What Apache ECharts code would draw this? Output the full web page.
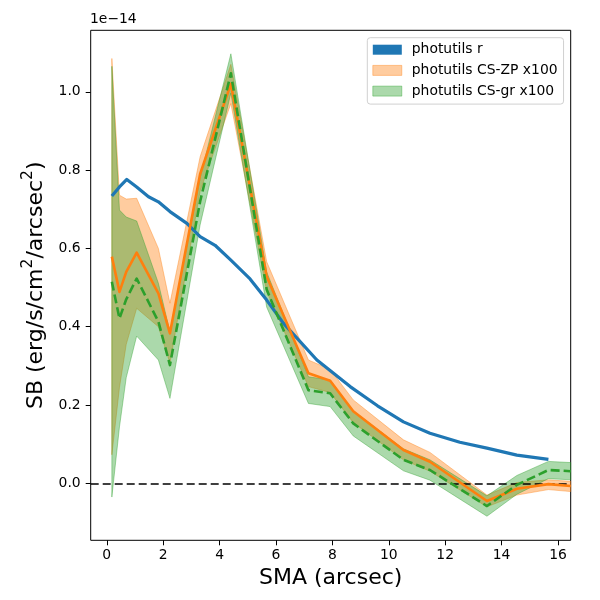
<!DOCTYPE html>
<html><head><meta charset="utf-8">
<script src="https://cdn.jsdelivr.net/npm/echarts@6/dist/echarts.min.js"></script>
<style>html,body{margin:0;padding:0;background:#fff}#c{width:600px;height:600px}</style>
</head><body><div id="c"></div>
<script>
// surface brightness values in units of 1e-14 erg/s/cm^2/arcsec^2
const smaR = [0.18, 0.45, 0.71, 1.06, 1.48, 1.83, 2.24, 2.84, 3.31, 3.84, 4.40, 5.08, 5.67, 6.26, 7.45, 8.63, 9.60, 10.52, 11.46, 12.52, 13.48, 14.54, 15.66];
const sbR  = [0.734, 0.757, 0.776, 0.757, 0.732, 0.719, 0.694, 0.664, 0.630, 0.608, 0.570, 0.522, 0.468, 0.409, 0.315, 0.247, 0.198, 0.157, 0.128, 0.105, 0.090, 0.072, 0.061];

const smaCS = [0.18, 0.45, 0.69, 1.06, 1.83, 2.24, 3.31, 4.40, 5.67, 7.15, 7.92, 8.74, 10.52, 11.46, 13.48, 14.54, 15.66, 16.45];
const zpMid = [0.579, 0.489, 0.540, 0.589, 0.485, 0.383, 0.790, 1.020, 0.528, 0.281, 0.262, 0.184, 0.085, 0.055, -0.045, -0.014, -0.002, -0.007];
const zpHi  = [1.085, 0.736, 0.726, 0.728, 0.600, 0.460, 0.834, 1.070, 0.566, 0.315, 0.291, 0.213, 0.111, 0.079, -0.030, 0.002, 0.009, 0.005];
const zpLo  = [0.073, 0.245, 0.355, 0.447, 0.400, 0.307, 0.746, 0.970, 0.490, 0.247, 0.232, 0.155, 0.060, 0.031, -0.060, -0.030, -0.016, -0.021];
const grMid = [0.515, 0.421, 0.470, 0.523, 0.413, 0.302, 0.720, 1.047, 0.495, 0.238, 0.230, 0.153, 0.060, 0.034, -0.058, -0.004, 0.034, 0.031];
const grHi  = [1.065, 0.698, 0.680, 0.670, 0.511, 0.387, 0.780, 1.097, 0.540, 0.272, 0.264, 0.185, 0.088, 0.060, -0.032, 0.020, 0.056, 0.053];
const grLo  = [-0.035, 0.144, 0.270, 0.376, 0.315, 0.217, 0.660, 0.997, 0.450, 0.204, 0.196, 0.121, 0.032, 0.008, -0.084, -0.028, 0.012, 0.009];

const xTicks = [0, 2, 4, 6, 8, 10, 12, 14, 16];
const yTicks = [0.0, 0.2, 0.4, 0.6, 0.8, 1.0];
const names = ['photutils r', 'photutils CS-ZP x100', 'photutils CS-gr x100'];

const FONT = 'DejaVu Sans';
const BLUE = '#1f77b4', ORANGE = '#ff7f0e', GREEN = '#2ca02c';
const ORANGE_F = 'rgba(255,127,14,0.4)', GREEN_F = 'rgba(44,160,44,0.4)';

function bandSeries(name, xs, lo, hi, color, z) {
  const data = xs.map((x, i) => [x, lo[i], hi[i]]);
  return {
    type: 'custom', name: name, data: data, z: z, silent: true,
    itemStyle: { color: color },
    encode: { x: 0, y: [1, 2] },
    renderItem: function (params, api) {
      if (params.dataIndex !== 0) return { type: 'group', children: [] };
      const pts = [];
      for (let i = 0; i < data.length; i++) pts.push(api.coord([data[i][0], data[i][2]]));
      for (let i = data.length - 1; i >= 0; i--) pts.push(api.coord([data[i][0], data[i][1]]));
      return { type: 'polygon', shape: { points: pts }, style: { fill: color, stroke: color, lineWidth: 1 } };
    }
  };
}
function lineSeries(name, xs, ys, color, width, dash, z) {
  return {
    type: 'line', name: name, data: xs.map((x, i) => [x, ys[i]]),
    showSymbol: false, symbol: 'none', z: z, silent: true,
    itemStyle: { color: color },
    lineStyle: { color: color, width: width, type: dash || 'solid', cap: 'butt', join: 'round' }
  };
}

const chart = echarts.init(document.getElementById('c'), null, { renderer: 'canvas' });
const blue = lineSeries(names[0], smaR, sbR, BLUE, 3.2, null, 5);
blue.markLine = {
  silent: true, symbol: ['none', 'none'], label: { show: false },
  lineStyle: { color: '#000', type: [8, 4], width: 1.5 },
  data: [{ yAxis: 0 }]
};
chart.setOption({
  animation: false,
  backgroundColor: '#fff',
  textStyle: { fontFamily: FONT, color: '#000' },
  grid: { left: 90.7, right: 29.3, top: 30.3, bottom: 59.7, show: true, borderColor: '#000', borderWidth: 1, backgroundColor: 'transparent' },
  xAxis: {
    type: 'value', min: -0.57, max: 16.45,
    name: 'SMA (arcsec)', nameLocation: 'middle', nameGap: 26,
    nameTextStyle: { fontFamily: FONT, fontSize: 22, color: '#000' },
    axisLine: { show: false, onZero: false },
    axisTick: { show: true, inside: false, length: 5, lineStyle: { color: '#000', width: 1 }, customValues: xTicks },
    axisLabel: { show: true, margin: 8, fontFamily: FONT, fontSize: 13.9, color: '#000', customValues: xTicks, formatter: v => String(Math.round(v)) },
    splitLine: { show: false }
  },
  yAxis: {
    type: 'value', min: -0.1455, max: 1.157,
    name: '{a|SB (erg/s/cm}{s|2}{a|/arcsec}{s|2}{a|)}', nameLocation: 'middle', nameGap: 42, nameRotate: 90,
    nameTextStyle: {
      fontFamily: FONT, fontSize: 22, color: '#000',
      rich: {
        a: { fontFamily: FONT, fontSize: 22, color: '#000', lineHeight: 28, verticalAlign: 'bottom' },
        s: { fontFamily: FONT, fontSize: 15.5, color: '#000', lineHeight: 28, verticalAlign: 'top', padding: [0, 0, 0, 0] }
      }
    },
    axisLine: { show: false, onZero: false },
    axisTick: { show: true, inside: false, length: 5, lineStyle: { color: '#000', width: 1 }, customValues: yTicks },
    axisLabel: { show: true, margin: 10, fontFamily: FONT, fontSize: 13.9, color: '#000', customValues: yTicks, formatter: v => v.toFixed(1) },
    splitLine: { show: false }
  },
  legend: {
    orient: 'vertical', left: 367.3, top: 37.7,
    padding: [5, 6, 6, 5], itemGap: 6.7, itemWidth: 29, itemHeight: 10, icon: 'rect',
    backgroundColor: 'rgba(255,255,255,0.8)', borderColor: '#d0d0d0', borderWidth: 1, borderRadius: 3,
    textStyle: { fontFamily: FONT, fontSize: 13.9, color: '#000', lineHeight: 14, padding: [0, 0, 0, 5] },
    selectedMode: false,
    data: [
      { name: names[0], itemStyle: { color: BLUE } },
      { name: names[1], itemStyle: { color: ORANGE_F, borderColor: ORANGE_F, borderWidth: 1 } },
      { name: names[2], itemStyle: { color: GREEN_F, borderColor: GREEN_F, borderWidth: 1 } }
    ]
  },
  graphic: [{ type: 'text', left: 90, top: 12, style: { text: '1e\u221214', font: '13.9px "DejaVu Sans"', fill: '#000' } }],
  series: [
    bandSeries(names[1], smaCS, zpLo, zpHi, ORANGE_F, 2),
    bandSeries(names[2], smaCS, grLo, grHi, GREEN_F, 3),
    blue,
    lineSeries('zp line', smaCS, zpMid, ORANGE, 2.6, null, 6),
    lineSeries('gr line', smaCS, grMid, GREEN, 2.6, [9, 4], 7)
  ]
});
</script></body></html>
